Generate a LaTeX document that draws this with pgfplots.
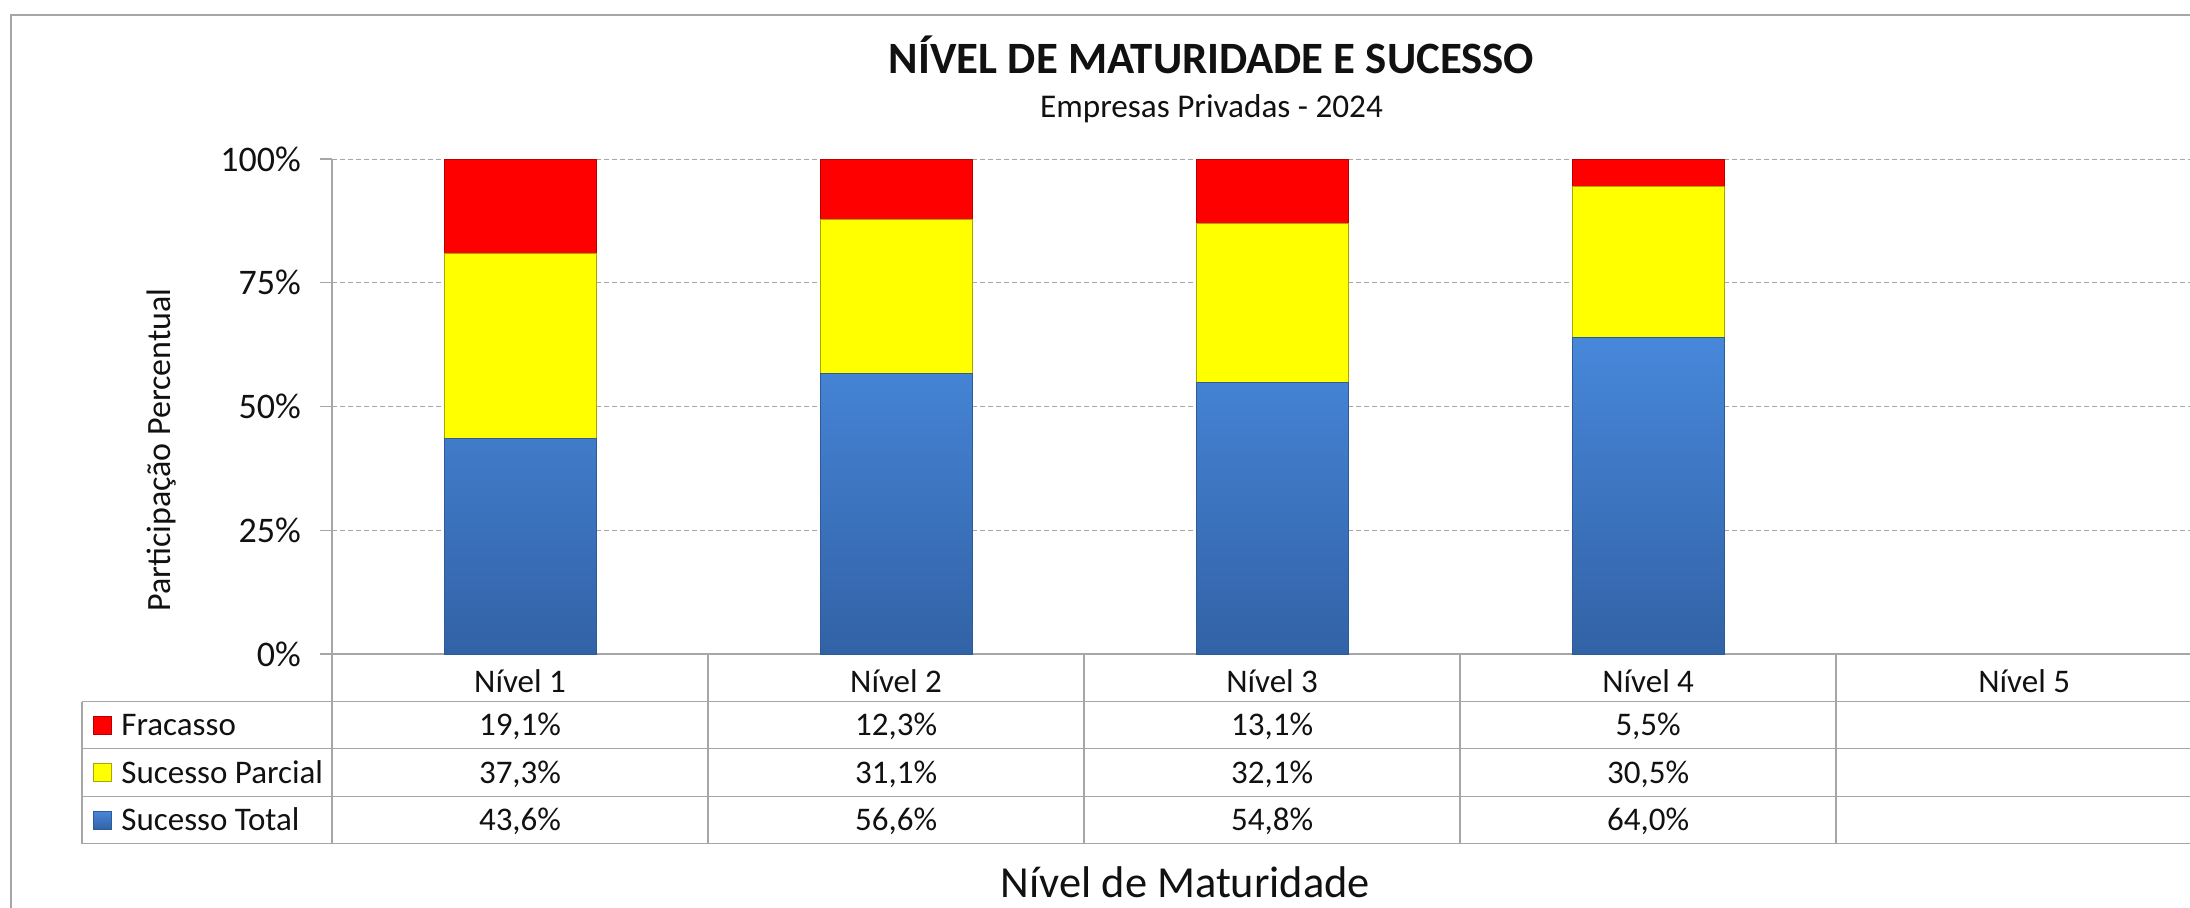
\documentclass[border=0pt]{standalone}
\usepackage{fontspec}
\setmainfont{Carlito}
\usepackage{pgfplots}
\pgfplotsset{compat=1.18}
\definecolor{fracasso}{HTML}{FF0000}
\definecolor{fracassoEdge}{HTML}{B80000}
\definecolor{parcial}{HTML}{FFFF00}
\definecolor{parcialEdge}{HTML}{A8A800}
\definecolor{totalTop}{HTML}{4787DA}
\definecolor{totalBot}{HTML}{3262A6}
\definecolor{totalEdge}{HTML}{2E5A96}
\definecolor{axisgray}{HTML}{A6A6A6}
\definecolor{txt}{HTML}{111111}
\newcommand{\tabfont}{\fontsize{16.5}{16.5}\selectfont}
\tikzset{tabnode/.style={anchor=base, font=\tabfont, text=txt}}
\begin{document}
\begin{tikzpicture}[x=1pt,y=1pt]
\useasboundingbox (0,0) rectangle (1095,453.5);
\draw[axisgray, line width=0.8pt] (5.5,-5) -- (5.5,446) -- (1100,446);
% title
\node[anchor=base, font=\bfseries\fontsize{22.4}{22.4}\selectfont, text=txt] at (605.75,416.5) {NÍVEL DE MATURIDADE E SUCESSO};
\node[anchor=base, font=\fontsize{16.6}{16.6}\selectfont, text=txt] at (605.75,394.5) {Empresas Privadas - 2024};
\begin{axis}[
  at={(166pt,126.5pt)}, anchor=south west,
  scale only axis, width=929pt, height=247.5pt,
  xmin=0.5, xmax=5.441, ymin=0, ymax=100,
  ybar stacked, bar width=76pt,
  axis lines*=left,
  axis line style={draw=axisgray, line width=0.6pt},
  clip=false,
  xtick={1,2,3,4,5},
  xticklabels={Nível 1,Nível 2,Nível 3,Nível 4,Nível 5},
  xtick style={draw=none},
  xticklabel style={font=\tabfont, text=txt, anchor=base, yshift=-13pt},
  ytick={0,25,50,75,100},
  yticklabels={0\%,25\%,50\%,75\%,100\%},
  ytick style={draw=axisgray, line width=0.6pt},
  tick align=outside, major tick length=6pt,
  yticklabel style={font=\fontsize{18}{18}\selectfont, text=txt, anchor=east, xshift=-6pt},
  ymajorgrids,
  grid style={axisgray, dash pattern=on 2.5pt off 1.5pt, line width=0.5pt},
  ylabel={Participação Percentual},
  ylabel style={at={(axis description cs:-0.092,0.412)}, anchor=center, font=\fontsize{17}{17}\selectfont, text=txt},
]
\addplot[top color=totalTop, bottom color=totalBot, draw=totalEdge, line width=0.4pt]
  coordinates {(1,43.6) (2,56.6) (3,54.8) (4,64.0)};
\addplot[fill=parcial, draw=parcialEdge, line width=0.4pt]
  coordinates {(1,37.3) (2,31.1) (3,32.1) (4,30.5)};
\addplot[fill=fracasso, draw=fracassoEdge, line width=0.4pt]
  coordinates {(1,19.1) (2,12.3) (3,13.1) (4,5.5)};
% data table values
\node[tabnode, yshift=-40.8pt] at (axis cs:1,0) {19,1\%};
\node[tabnode, yshift=-40.8pt] at (axis cs:2,0) {12,3\%};
\node[tabnode, yshift=-40.8pt] at (axis cs:3,0) {13,1\%};
\node[tabnode, yshift=-40.8pt] at (axis cs:4,0) {5,5\%};
\node[tabnode, yshift=-64.55pt] at (axis cs:1,0) {37,3\%};
\node[tabnode, yshift=-64.55pt] at (axis cs:2,0) {31,1\%};
\node[tabnode, yshift=-64.55pt] at (axis cs:3,0) {32,1\%};
\node[tabnode, yshift=-64.55pt] at (axis cs:4,0) {30,5\%};
\node[tabnode, yshift=-88.4pt] at (axis cs:1,0) {43,6\%};
\node[tabnode, yshift=-88.4pt] at (axis cs:2,0) {56,6\%};
\node[tabnode, yshift=-88.4pt] at (axis cs:3,0) {54,8\%};
\node[tabnode, yshift=-88.4pt] at (axis cs:4,0) {64,0\%};
\end{axis}
% table grid
\begin{scope}[axisgray, line width=0.6pt]
\foreach \yy in {102.65,79.35,55.15,31.65} \draw (41,\yy) -- (1100,\yy);
\draw (41,102.65) -- (41,31.65);
\draw (166,126.5) -- (166,31.65);
\foreach \k in {1,2,3,4} \draw (166+188*\k,126.5) -- (166+188*\k,31.65);
\end{scope}
% legend keys and names
\fill[fracasso, draw=fracassoEdge, line width=0.4pt] (46.5,86.5) rectangle (55.5,95.5);
\fill[parcial, draw=parcialEdge, line width=0.4pt] (46.5,62.75) rectangle (55.5,71.75);
\shade[top color=totalTop, bottom color=totalBot, draw=totalEdge, line width=0.4pt] (46.5,38.9) rectangle (55.5,47.9);
\node[anchor=base west, inner sep=0pt, font=\tabfont, text=txt] at (60.5,85.7) {Fracasso};
\node[anchor=base west, inner sep=0pt, font=\tabfont, text=txt] at (60.5,61.95) {Sucesso Parcial};
\node[anchor=base west, inner sep=0pt, font=\tabfont, text=txt] at (60.5,38.1) {Sucesso Total};
% x axis title
\node[anchor=base, font=\fontsize{22.2}{22.2}\selectfont, text=txt] at (592.7,5) {Nível de Maturidade};
\end{tikzpicture}
\end{document}
